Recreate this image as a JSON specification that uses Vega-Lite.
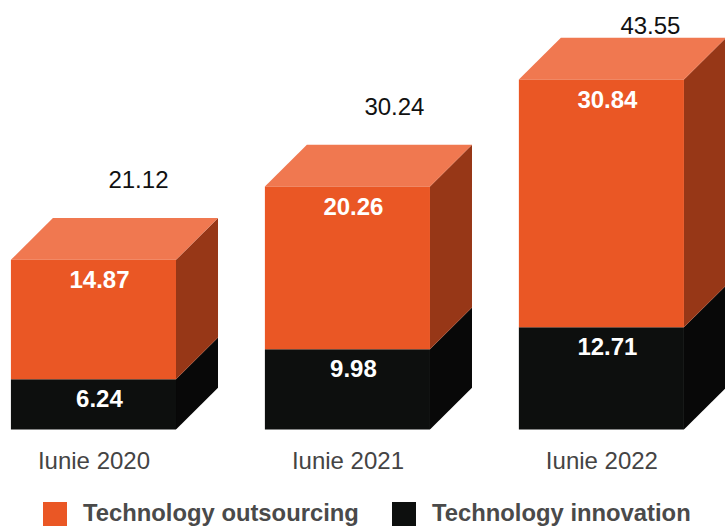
{
"$schema":"https://vega.github.io/schema/vega-lite/v6.json",
"width":725,"height":429.5,
"autosize":{"type":"none"},
"padding":{"left":0,"top":0,"right":0,"bottom":96.5},
"background":"white",
"config":{"view":{"stroke":null},"font":"Liberation Sans"},
"datasets":{
"segments":[
{"year":2020,"series":"Technology innovation","value":6.24},
{"year":2020,"series":"Technology outsourcing","value":14.87},
{"year":2021,"series":"Technology innovation","value":9.98},
{"year":2021,"series":"Technology outsourcing","value":20.26},
{"year":2022,"series":"Technology innovation","value":12.71},
{"year":2022,"series":"Technology outsourcing","value":30.84}
],
"totals":[
{"year":2020,"total":21.12},
{"year":2021,"total":30.24},
{"year":2022,"total":43.55}
]},
"data":{"name":"segments"},
"transform":[
{"stack":"value","groupby":["year"],"sort":[{"field":"series","order":"ascending"}],"as":["v0","v1"]},
{"calculate":"datum.year-0.325","as":"xl"},
{"calculate":"datum.year+0.325","as":"xr"}
],
"layer":[
{"transform":[
{"calculate":"[0,1]","as":"corner"},{"flatten":["corner"]},
{"calculate":"datum.xr+datum.corner*0.1654","as":"sx"},
{"calculate":"datum.v0+datum.corner*5.2","as":"sy0"},
{"calculate":"datum.v1+datum.corner*5.2","as":"sy1"}],
"mark":{"type":"area","clip":true},
"encoding":{
"x":{"field":"sx","type":"quantitative","scale":{"domain":[2019.632,2022.4866],"nice":false,"zero":false},
"axis":{"values":[2020,2021,2022],"labelExpr":"'Iunie ' + datum.value","title":null,"domain":false,"ticks":false,"grid":false,"labelPadding":19.5,"labelFontSize":24,"labelColor":"#444444","labelFont":"Liberation Sans","labelOverlap":false,"labelFlush":false}},
"y":{"field":"sy0","type":"quantitative","scale":{"domain":[0,53.45],"nice":false},"axis":null},
"y2":{"field":"sy1"},
"detail":{"field":"year"},
"color":{"field":"series","type":"nominal","legend":null,"scale":{"domain":["Technology outsourcing","Technology innovation"],"range":["#973717","#080808"]}}
}},
{"transform":[
{"filter":"datum.series==='Technology outsourcing'"},
{"calculate":"[0,1]","as":"corner"},{"flatten":["corner"]},
{"calculate":"datum.xl+datum.corner*0.1654","as":"tx0"},
{"calculate":"datum.xr+datum.corner*0.1654","as":"tx1"},
{"calculate":"datum.v1+datum.corner*5.2","as":"ty"}],
"mark":{"type":"area","orient":"horizontal","color":"#F07850","clip":true},
"encoding":{
"y":{"field":"ty","type":"quantitative"},
"x":{"field":"tx0","type":"quantitative"},
"x2":{"field":"tx1"},
"detail":{"field":"year"}
}},
{"mark":{"type":"rect"},
"encoding":{
"x":{"field":"xl","type":"quantitative"},
"x2":{"field":"xr"},
"y":{"field":"v0","type":"quantitative"},
"y2":{"field":"v1"},
"color":{"field":"series","type":"nominal","scale":{"domain":["Technology outsourcing","Technology innovation"],"range":["#EA5725","#0D0F0E"]},
"legend":{"orient":"none","legendX":43,"legendY":502,"direction":"horizontal","columns":2,"title":null,"symbolType":"square","symbolSize":576,"symbolStrokeWidth":0,"labelFontSize":23.8,"labelFontWeight":"bold","labelColor":"#4a4a4a","labelFont":"Liberation Sans","labelOffset":16,"columnPadding":33,"labelLimit":400,"padding":0,"symbolOpacity":1}}
}},
{"mark":{"type":"text","color":"white","fontWeight":"bold","fontSize":24,"baseline":"middle","dx":6,"dy":21},
"encoding":{
"x":{"field":"year","type":"quantitative"},
"y":{"field":"v1","type":"quantitative"},
"text":{"field":"value","type":"quantitative","format":".2f"}
}},
{"data":{"name":"totals"},
"transform":[
{"calculate":"min(datum.total+9.8,50.1)","as":"ly"},
{"calculate":"datum.year+(datum.year-2021)*0.0079","as":"lx"}],
"mark":{"type":"text","color":"#111111","fontSize":24,"baseline":"middle","dx":47},
"encoding":{
"x":{"field":"lx","type":"quantitative"},
"y":{"field":"ly","type":"quantitative"},
"text":{"field":"total","type":"quantitative","format":".2f"}
}}
],
"resolve":{"scale":{"color":"independent"}}
}
